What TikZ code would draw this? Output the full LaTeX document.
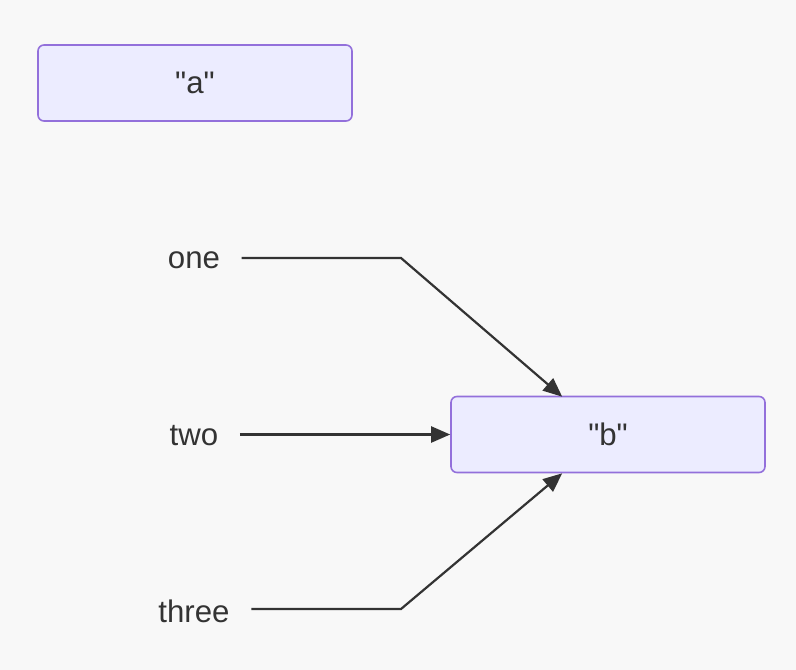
\documentclass[tikz,border=0pt]{standalone}
\usepackage{fontspec}
\setmainfont[Ligatures=TeXOff]{Liberation Sans}
\usetikzlibrary{arrows.meta}
\definecolor{bgc}{HTML}{F8F8F8}
\definecolor{boxfill}{HTML}{ECECFF}
\definecolor{boxline}{HTML}{9370DB}
\definecolor{ink}{HTML}{333333}
\tikzset{
  box/.style={draw=boxline, fill=boxfill, line width=1.6pt, rounded corners=6pt,
    minimum width=314pt, minimum height=76pt, inner sep=0pt, text=ink,
    font=\fontsize{31.2}{37}\selectfont},
  lbl/.style={inner xsep=21.5pt, inner ysep=4pt, text=ink, font=\fontsize{31.2}{37}\selectfont},
  conn/.style={draw=ink, line width=2.2pt, -{Triangle[length=19pt,width=16pt]}}
}
\begin{document}
\begin{tikzpicture}[x=1pt,y=-1pt]
\fill[bgc] (0,0) rectangle (796,670);
\useasboundingbox (0,0) rectangle (796,670);
\node[box] (a) at (195,83) {"a"};
\node[box] (b) at (608,434.5) {"b"};
\node[lbl] (one) at (194,260) {one};
\node[lbl] (two) at (194,436) {two};
\node[lbl] (three) at (194,611) {three};
\coordinate (k1) at (401,258);
\coordinate (k3) at (401,609);
\draw[conn] (one.east |- k1) -- (k1) -- ([xshift=112pt,yshift=-1pt]b.north west);
\draw[conn] (two.east |- b.west) -- (b.west);
\draw[conn] (three.east |- k3) -- (k3) -- ([xshift=112pt]b.south west);
\end{tikzpicture}
\end{document}
